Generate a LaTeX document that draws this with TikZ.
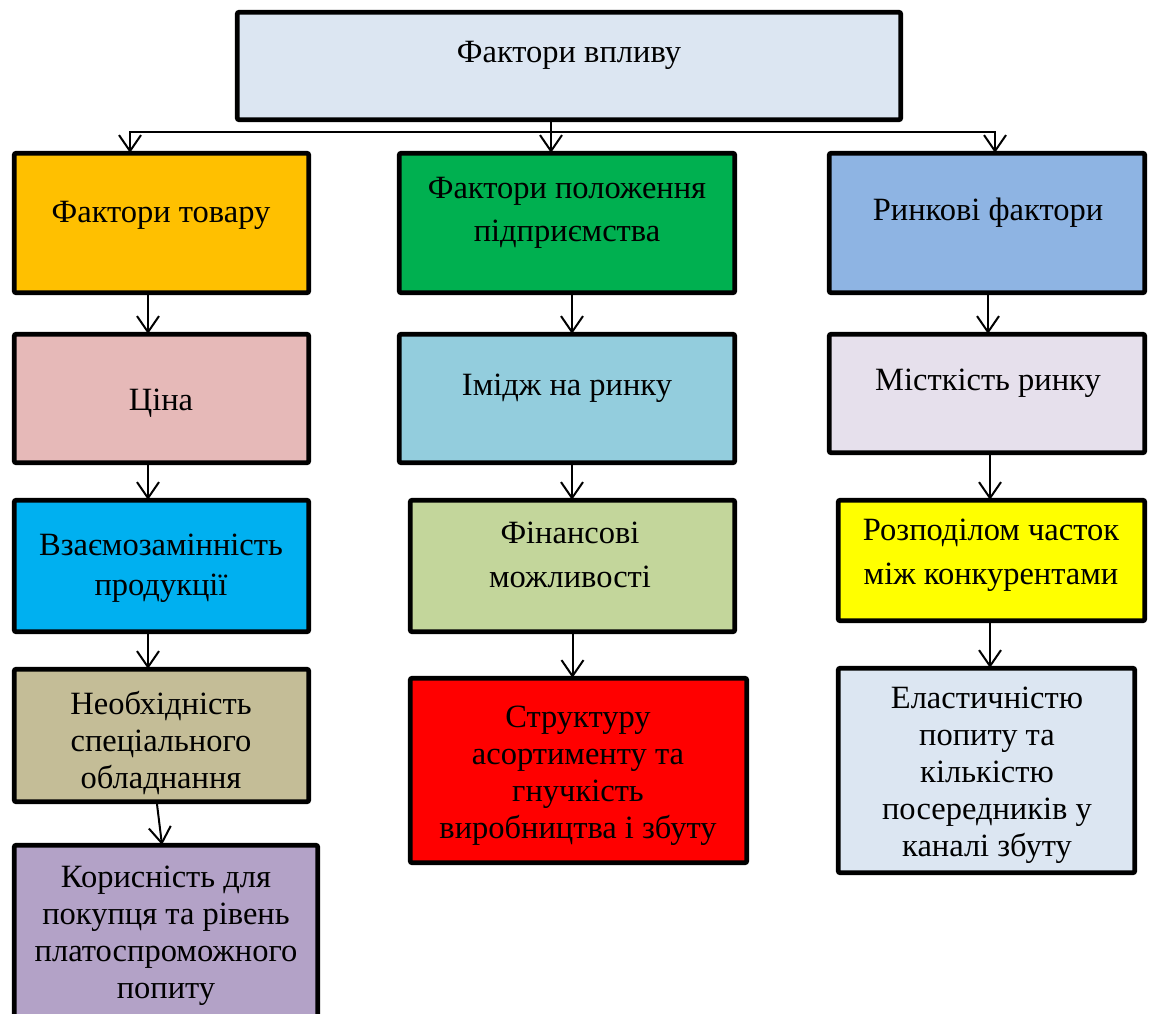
\documentclass[tikz,border=0pt]{standalone}
\usepackage{fontspec}
\setmainfont{Liberation Serif}
\usetikzlibrary{arrows.meta}
\definecolor{cTop}{HTML}{DCE6F2}
\definecolor{cA1}{HTML}{FFC000}
\definecolor{cB1}{HTML}{00B050}
\definecolor{cC1}{HTML}{8EB4E3}
\definecolor{cA2}{HTML}{E6B9B8}
\definecolor{cB2}{HTML}{93CDDD}
\definecolor{cC2}{HTML}{E6E0EC}
\definecolor{cA3}{HTML}{00B0F0}
\definecolor{cB3}{HTML}{C3D69B}
\definecolor{cC3}{HTML}{FFFF00}
\definecolor{cA4}{HTML}{C4BD97}
\definecolor{cB4}{HTML}{FF0000}
\definecolor{cC4}{HTML}{DCE6F2}
\definecolor{cA5}{HTML}{B3A2C7}
\begin{document}
\begin{tikzpicture}[x=1pt,y=-1pt,
  box/.style={draw=black,line width=4.8pt,rounded corners=2pt,inner sep=0pt},
  txt/.style={align=center,font=\fontsize{32.5}{37}\selectfont,inner sep=0pt},
  link/.style={line width=2pt},
  conn/.style={line width=2pt,-{Straight Barb[length=16pt,width=22pt]}}]
\useasboundingbox (0,0) rectangle (1152,1014);
\fill[white] (0,0) rectangle (1152,1014);

% boxes
\node[box,fill=cTop,minimum width=663.5pt,minimum height=107.5pt] (T) at (569,66) {};
\node[box,fill=cA1,minimum width=294.5pt,minimum height=139.5pt] (A1) at (161.5,223) {};
\node[box,fill=cA2,minimum width=294.5pt,minimum height=128.5pt] (A2) at (161.5,398.5) {};
\node[box,fill=cA3,minimum width=294.5pt,minimum height=131.5pt] (A3) at (161.5,566) {};
\node[box,fill=cA4,minimum width=294.5pt,minimum height=132.5pt] (A4) at (161.5,735.5) {};
\node[box,fill=cA5,minimum width=303.5pt,minimum height=174.5pt] (A5) at (166,932.5) {};
\node[box,fill=cB1,minimum width=335.5pt,minimum height=139.5pt] (B1) at (567,223) {};
\node[box,fill=cB2,minimum width=335.5pt,minimum height=128.5pt] (B2) at (567,398.5) {};
\node[box,fill=cB3,minimum width=324.5pt,minimum height=131.5pt] (B3) at (572.5,566) {};
\node[box,fill=cB4,minimum width=336.5pt,minimum height=184.5pt] (B4) at (578.5,770.5) {};
\node[box,fill=cC1,minimum width=315.5pt,minimum height=139.5pt] (C1) at (987,223) {};
\node[box,fill=cC2,minimum width=315.5pt,minimum height=118.5pt] (C2) at (987,393.5) {};
\node[box,fill=cC3,minimum width=306.5pt,minimum height=120.5pt] (C3) at (991.5,560.5) {};
\node[box,fill=cC4,minimum width=296.5pt,minimum height=204.5pt] (C4) at (986.5,770.5) {};

% texts
\node[txt] (tT) at (569,55) {Фактори впливу};
\node[txt] (tA1) at (161,215) {Фактори товару};
\node[txt] (tA2) at (161,403) {Ціна};
\node[txt] (tA3) at (161,568) {Взаємозамінність\\[3pt]продукції};
\node[txt] (tA4) at (161,743) {Необхідність\\спеціального\\обладнання};
\node[txt] (tA5) at (166,936) {Корисність для\\покупця та рівень\\платоспроможного\\попиту};
\node[txt] (tB1) at (567,212.5) {Фактори положення\\[6pt]підприємства};
\node[txt] (tB2) at (567,388) {Імідж на ринку};
\node[txt] (tB3) at (570,555) {Фінансові\\[7pt]можливості};
\node[txt] (tB4) at (578,776) {Структуру\\асортименту та\\гнучкість\\виробництва і збуту};
\node[txt] (tC1) at (988,213) {Ринкові фактори};
\node[txt] (tC2) at (988,383) {Місткість ринку};
\node[txt] (tC3) at (991,555) {Розподілом часток\\[7pt]між конкурентами};
\node[txt] (tC4) at (987,775.5) {Еластичністю\\попиту та\\кількістю\\посередників у\\каналі збуту};

% connectors
\coordinate (hub) at (551,132);
\draw[link] ([xshift=-18pt]T.south) -- (hub);
\draw[conn] (hub) -| ([xshift=-31.5pt,yshift=-2pt]A1.north);
\draw[conn] (hub) -- ([xshift=-16pt,yshift=-2pt]B1.north);
\draw[conn] (hub) -| ([xshift=8pt,yshift=-2pt]C1.north);

\draw[conn] ([xshift=-13.5pt]A1.south) -- ([xshift=-13.5pt,yshift=-2pt]A2.north);
\draw[conn] ([xshift=-13.5pt]A2.south) -- ([xshift=-13.5pt,yshift=-2pt]A3.north);
\draw[conn] ([xshift=-13.5pt]A3.south) -- ([xshift=-13.5pt,yshift=-2pt]A4.north);
\draw[conn] ([xshift=-4.5pt]A4.south) -- ([xshift=-4pt,yshift=-2pt]A5.north);

\draw[conn] ([xshift=5pt]B1.south) -- ([xshift=5pt,yshift=-2pt]B2.north);
\draw[conn] ([xshift=5pt]B2.south) -- ([xshift=-0.5pt,yshift=-2pt]B3.north);
\draw[conn] ([xshift=0pt]B3.south) -- ([xshift=-6pt,yshift=-2pt]B4.north);

\draw[conn] ([xshift=1pt]C1.south) -- ([xshift=1pt,yshift=-2pt]C2.north);
\draw[conn] ([xshift=3pt]C2.south) -- ([xshift=-1.5pt,yshift=-2pt]C3.north);
\draw[conn] ([xshift=-1.5pt]C3.south) -- ([xshift=3.5pt,yshift=-2pt]C4.north);
\end{tikzpicture}
\end{document}
